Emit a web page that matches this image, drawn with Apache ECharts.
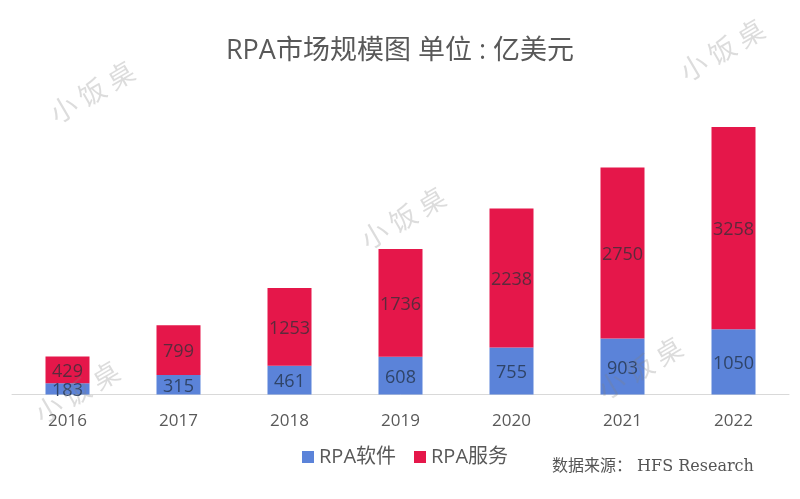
<!DOCTYPE html>
<html>
<head>
<meta charset="utf-8">
<style>
  html, body { margin: 0; padding: 0; background: #fff; }
  #chart { width: 800px; height: 499px; }
</style>
<script src="https://cdn.jsdelivr.net/npm/echarts@6/dist/echarts.min.js"></script>
</head>
<body>
<div id="chart"></div>
<script>
var years = ['2016', '2017', '2018', '2019', '2020', '2021', '2022'];
var software = [183, 315, 461, 608, 755, 903, 1050];
var services = [429, 799, 1253, 1736, 2238, 2750, 3258];

var fontCn = '"Open Sans", "Noto Sans CJK SC", sans-serif';

function watermark(x, y) {
  return {
    type: 'text',
    x: x,
    y: y,
    rotation: 0.53,
    z: 100,
    silent: true,
    style: {
      text: '小 饭 桌',
      font: '27px "Noto Sans CJK SC", sans-serif',
      fill: 'rgba(130,130,130,0.28)',
      align: 'center',
      verticalAlign: 'middle'
    }
  };
}

var chart = echarts.init(document.getElementById('chart'));

chart.setOption({
  animation: false,
  backgroundColor: '#fff',
  title: {
    text: 'RPA市场规模图 单位 : 亿美元',
    left: 'center',
    top: 33,
    textStyle: { color: '#595959', fontSize: 27, fontWeight: 'normal', fontFamily: fontCn }
  },
  legend: {
    data: ['RPA软件', 'RPA服务'],
    left: 297,
    top: 442,
    itemWidth: 12,
    itemHeight: 12,
    itemGap: 18,
    icon: 'rect',
    textStyle: { color: '#595959', fontSize: 20, fontFamily: fontCn }
  },
  grid: { left: 12, right: 11, top: 115, height: 279.5 },
  xAxis: {
    type: 'category',
    data: years,
    axisLine: { lineStyle: { color: '#d9d9d9', width: 1 } },
    axisTick: { show: false },
    axisLabel: { color: '#595959', fontSize: 17, margin: 18, fontFamily: fontCn }
  },
  yAxis: {
    type: 'value',
    min: 0,
    max: 4500,
    show: false
  },
  series: [
    {
      name: 'RPA软件',
      type: 'bar',
      stack: 'total',
      barWidth: 44,
      data: software,
      itemStyle: { color: '#5b83d9' },
      label: { show: true, position: 'inside', offset: [0, 2], color: '#2f4468', fontSize: 18, fontFamily: fontCn }
    },
    {
      name: 'RPA服务',
      type: 'bar',
      stack: 'total',
      barWidth: 44,
      data: services,
      itemStyle: { color: '#e5174a' },
      label: { show: true, position: 'inside', offset: [0, 2], color: '#5c2a3c', fontSize: 18, fontFamily: fontCn }
    }
  ],
  graphic: [
    watermark(92, 92),
    watermark(722, 50),
    watermark(403, 218),
    watermark(77, 392),
    watermark(640, 368),
    { type: 'text', left: 552, top: 459, silent: true,
      style: { text: '数据来源： HFS Research', font: '16px "DejaVu Serif", "Noto Sans CJK SC", serif', fill: '#555' } }
  ]
});
</script>
</body>
</html>
